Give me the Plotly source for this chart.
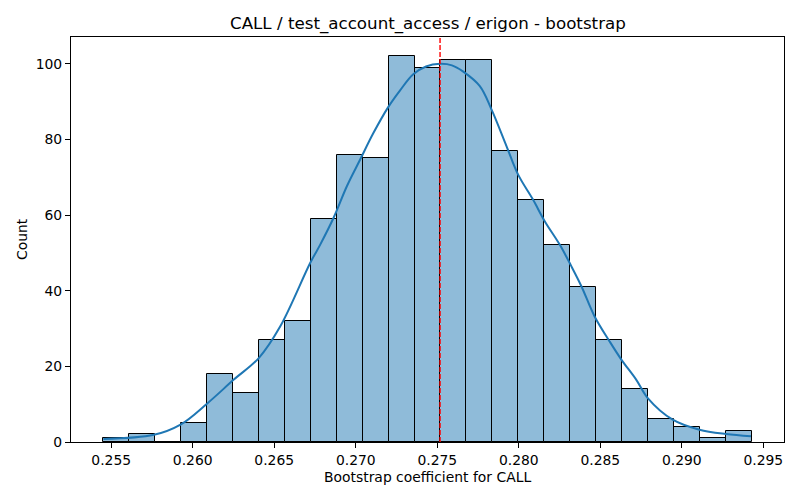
import plotly.graph_objects as go

# ---- data ----
bin_start = 0.25452
bin_width = 0.0015904
counts = [1, 2, 0, 5, 18, 13, 27, 32, 59, 76, 75, 102, 99, 101, 101,
          77, 64, 52, 41, 27, 14, 6, 4, 1, 3]

kde_x = [0.25452, 0.25762, 0.25925, 0.26089, 0.26252, 0.26405, 0.26537,
         0.26721, 0.26782, 0.26864, 0.26946, 0.27027, 0.27108, 0.27198,
         0.27272, 0.27351, 0.27431, 0.27517, 0.27590, 0.27657, 0.27761,
         0.27833, 0.27925, 0.27996, 0.28087, 0.28159, 0.28251, 0.28322,
         0.28384, 0.28465, 0.28557, 0.28629, 0.28720, 0.28791, 0.28944,
         0.29108, 0.29271, 0.29424]
kde_y = [0.8, 1.9, 4.6, 10.2, 16.5, 22.2, 30.6,
         47.4, 52.2, 59.3, 67.7, 74.7, 81.7, 88.5,
         93.0, 97.2, 99.3, 100.0, 99.6, 98.0, 94.1,
         87.9, 78.2, 70.7, 64.1, 58.4, 52.2, 46.5,
         41.2, 33.2, 26.6, 21.8, 16.5, 11.6, 5.9,
         3.25, 2.1, 1.5]

mean_value = 0.27517

x_ticks = [0.255, 0.260, 0.265, 0.270, 0.275, 0.280, 0.285, 0.290, 0.295]
y_ticks = [0, 20, 40, 60, 80, 100]

title_text = "CALL / test_account_access / erigon - bootstrap"
x_label = "Bootstrap coefficient for CALL"
y_label = "Count"

# ---- figure ----
W, H = 800, 500
ML, MR, MT, MB = 71, 16, 37, 58
plot_w = W - ML - MR
plot_h = H - MT - MB

centers = [bin_start + bin_width * (i + 0.5) for i in range(len(counts))]
bin_end = bin_start + bin_width * len(counts)
span = bin_end - bin_start
x_range = [bin_start - 0.05 * span, bin_end + 0.05 * span]
y_range = [0, max(counts) * 1.05]

font_family = "DejaVu Sans"

fig = go.Figure()
fig.add_trace(go.Bar(
    x=centers, y=counts, width=bin_width,
    marker=dict(color="rgba(31,119,180,0.5)",
                line=dict(color="black", width=1)),
    hoverinfo="x+y", showlegend=False,
))
fig.add_trace(go.Scatter(
    x=kde_x, y=kde_y, mode="lines",
    line=dict(color="#1f77b4", width=2, shape="spline", smoothing=1.0),
    showlegend=False,
))

fig.add_shape(type="line", xref="x", yref="paper",
              x0=mean_value, x1=mean_value, y0=0, y1=1,
              line=dict(color="red", width=1.4, dash="5px,2px"))

# title and axis labels placed as text
fig.add_annotation(text=title_text, xref="paper", yref="paper",
                   x=0.5, y=1 + (MT - 23) / plot_h, xanchor="center",
                   yanchor="middle", showarrow=False,
                   font=dict(family=font_family, size=16.7, color="black"))
fig.add_annotation(text=x_label, xref="paper", yref="paper",
                   x=0.5, y=-(477 - (H - MB)) / plot_h, xanchor="center",
                   yanchor="middle", showarrow=False,
                   font=dict(family=font_family, size=13.9, color="black"))
fig.add_annotation(text=y_label, xref="paper", yref="paper",
                   x=-(ML - 21.5) / plot_w, y=0.5, xanchor="center",
                   yanchor="middle", showarrow=False, textangle=-90,
                   font=dict(family=font_family, size=13.9, color="black"))

fig.update_layout(
    width=W, height=H,
    margin=dict(l=ML, r=MR, t=MT, b=MB, autoexpand=False),
    plot_bgcolor="white", paper_bgcolor="white",
    bargap=0,
    font=dict(family=font_family, size=13.9, color="black"),
)
fig.update_xaxes(
    range=x_range, tickvals=x_ticks, tickformat=".3f", automargin=False,
    showline=True, mirror=True, linecolor="black", linewidth=1.1,
    ticks="outside", ticklen=5, tickwidth=1.1, tickcolor="black",
    showgrid=False, zeroline=False,
    tickfont=dict(family=font_family, size=13.9),
)
fig.update_yaxes(
    range=y_range, tickvals=y_ticks, automargin=False,
    showline=True, mirror=True, linecolor="black", linewidth=1.1,
    ticks="outside", ticklen=5, tickwidth=1.1, tickcolor="black",
    showgrid=False, zeroline=False,
    tickfont=dict(family=font_family, size=13.9),
)

fig.write_html("out.html",
               config={"displayModeBar": False},
               post_script="document.body.style.margin='0';")
